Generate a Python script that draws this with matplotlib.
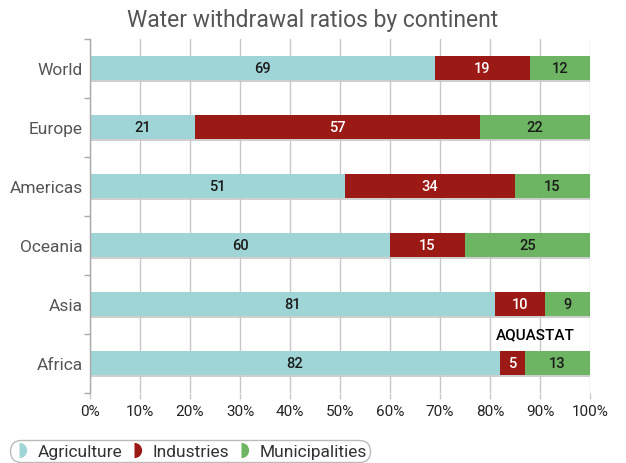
import matplotlib.pyplot as plt
from matplotlib.lines import Line2D
import numpy as np

plt.rcParams['font.family'] = ['Roboto', 'DejaVu Sans']

continents = ['World', 'Europe', 'Americas', 'Oceania', 'Asia', 'Africa']
agriculture = [69, 21, 51, 60, 81, 82]
industries = [19, 57, 34, 15, 10, 5]
municipalities = [12, 22, 15, 25, 9, 13]
xticks = [0, 10, 20, 30, 40, 50, 60, 70, 80, 90, 100]

col_agr = '#9fd5d6'
col_ind = '#9c1a16'
col_mun = '#6eb563'

fig = plt.figure(figsize=(6.26, 4.64), dpi=100)
ax = fig.add_axes([90 / 626, 1 - 393.5 / 464, 500 / 626, 354 / 464])

y = np.arange(len(continents))
h = 0.41
agr = np.array(agriculture)
ind = np.array(industries)
mun = np.array(municipalities)
total = agr + ind + mun

# soft shadow under each stacked bar
ax.barh(y + 0.04, total, height=h, color='#b0b0b0', alpha=0.6, zorder=1.5)
ax.barh(y, agr, height=h, color=col_agr, zorder=2)
ax.barh(y, ind, left=agr, height=h, color=col_ind, zorder=2)
ax.barh(y, mun, left=agr + ind, height=h, color=col_mun, zorder=2)

for i in range(len(continents)):
    ax.text(agr[i] / 2, y[i], str(agr[i]), ha='center', va='center',
            fontsize=10.5, fontweight='medium', color='#1a1a1a', zorder=3)
    ax.text(agr[i] + ind[i] / 2, y[i], str(ind[i]), ha='center', va='center',
            fontsize=10.5, fontweight='medium', color='white', zorder=3)
    ax.text(agr[i] + ind[i] + mun[i] / 2, y[i], str(mun[i]), ha='center', va='center',
            fontsize=10.5, fontweight='medium', color='#1a1a1a', zorder=3)

ax.text(89, 4.52, 'AQUASTAT', ha='center', va='center', fontsize=11,
        fontweight='medium', color='black', zorder=3)

ax.set_xlim(0, 100)
ax.set_ylim(len(continents) - 0.5, -0.5)
ax.set_xticks(xticks)
ax.set_xticklabels([f'{v}%' for v in xticks], fontsize=11, color='#222222')
ax.set_yticks(y)
ax.set_yticklabels(continents, fontsize=12.5, color='#555555')
ax.set_yticks(np.arange(-0.5, len(continents), 1), minor=True)
ax.tick_params(axis='y', which='major', length=0, pad=5)
ax.tick_params(axis='y', which='minor', length=4, color='#aaaaaa', width=1)
ax.tick_params(axis='x', length=4, color='#c8c8c8', width=1, pad=4)
ax.grid(axis='x', color='#c8c8c8', linewidth=1, zorder=0)

for s in ['top', 'right', 'bottom']:
    ax.spines[s].set_visible(False)
ax.spines['left'].set_color('#aaaaaa')
ax.spines['left'].set_linewidth(1)

fig.text(0.5, 1 - 20 / 464, 'Water withdrawal ratios by continent', ha='center',
         va='center', fontsize=16.5, color='#555555')

handles = [Line2D([], [], marker='o', fillstyle='right', markersize=11, linestyle='none',
                  markerfacecolor=c, markerfacecoloralt='none', markeredgewidth=0)
           for c in [col_agr, col_ind, col_mun]]
leg = fig.legend(handles, ['Agriculture', 'Industries', 'Municipalities'],
                 loc='center', bbox_to_anchor=(190 / 626, 1 - 452 / 464), ncol=3,
                 fontsize=12.5, frameon=True, fancybox=True, handlelength=0.7,
                 handletextpad=0.7, columnspacing=0.35, borderpad=0.2,
                 labelcolor='#333333')
frame = leg.get_frame()
frame.set_edgecolor('#aaaaaa')
frame.set_linewidth(1)
frame.set_boxstyle('round,pad=0,rounding_size=0.65')

fig.savefig('out.png', dpi=100)
